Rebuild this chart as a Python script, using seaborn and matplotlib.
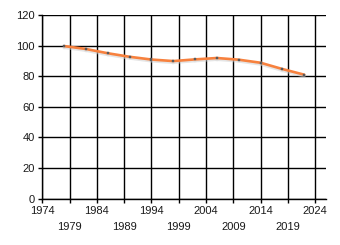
import matplotlib
matplotlib.use("Agg")
import matplotlib.pyplot as plt
import matplotlib.patheffects as pe
import seaborn as sns
import pandas as pd

years = [1978, 1982, 1986, 1990, 1994, 1998, 2002, 2006, 2010, 2014, 2018, 2022]
values = [99.7, 97.8, 95.0, 92.7, 90.9, 89.9, 91.0, 91.9, 90.8, 88.8, 84.7, 81.0]
xticks = [1974, 1979, 1984, 1989, 1994, 1999, 2004, 2009, 2014, 2019, 2024]
yticks = [0, 20, 40, 60, 80, 100, 120]

df = pd.DataFrame({"year": years, "value": values})

sns.set_style("white")
plt.rcParams['font.family'] = ['Liberation Sans', 'DejaVu Sans']

fig = plt.figure(figsize=(3.4, 2.45), dpi=100)
ax = fig.add_axes([0.1244, 0.189, 0.8346, 0.7498])

sns.lineplot(data=df, x="year", y="value", ax=ax, color="#F7813E", linewidth=1.9,
             marker="s", markersize=1.5, markerfacecolor="#5a5a5a", markeredgecolor="#5a5a5a",
             markeredgewidth=0.3,
             path_effects=[pe.SimpleLineShadow(offset=(0, -1.2), shadow_color="#cccccc", alpha=0.5),
                           pe.Normal()])

ax.set_xlim(1974, 2026)
ax.set_ylim(0, 120)
ax.set_xticks(xticks)
ax.set_xticklabels([str(t) for t in xticks])
ax.set_yticks(yticks)
ax.set_xlabel("")
ax.set_ylabel("")

ax.grid(True, color="black", linewidth=1.0)
ax.set_axisbelow(True)
for s in ["top", "right"]:
    ax.spines[s].set_visible(False)
for s in ["left", "bottom"]:
    ax.spines[s].set_color("black")
    ax.spines[s].set_linewidth(1.0)

ax.tick_params(axis="both", which="major", direction="out", length=2.7, width=1.0,
               color="black", labelsize=8, labelcolor="#1a1a1a", left=True, bottom=True)
ax.tick_params(axis="y", pad=2.7)
for i, t in enumerate(ax.xaxis.get_major_ticks()):
    t.set_pad(2.6 if i % 2 == 0 else 14.4)

fig.savefig("out.png", dpi=100)
